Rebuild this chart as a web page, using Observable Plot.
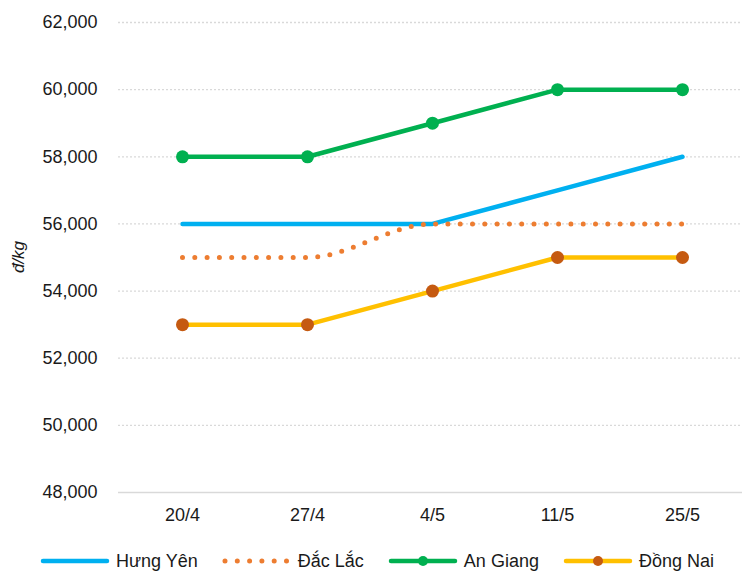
<!DOCTYPE html>
<html>
<head>
<meta charset="utf-8">
<script src="https://cdn.jsdelivr.net/npm/d3@7"></script>
<script src="https://cdn.jsdelivr.net/npm/@observablehq/plot@0.6"></script>
<style>
  html, body { margin: 0; padding: 0; background: #fff; }
  body { width: 742px; height: 571px; overflow: hidden; font-family: "Liberation Sans", Arial, sans-serif; }
  #legend { display: flex; justify-content: center; align-items: center; height: 36px; margin-top: 8px; padding-left: 12px; box-sizing: border-box; font-size: 18px; color: #1a1a1a; }
  .item { display: flex; align-items: center; margin: 0 12px; }
  .item svg { margin-right: 6px; }
</style>
</head>
<body>
<div id="chart"></div>
<div id="legend"></div>
<script>
const dates = ["20/4", "27/4", "4/5", "11/5", "25/5"];
const seriesNames = ["Hưng Yên", "Đắc Lắc", "An Giang", "Đồng Nai"];
const hungYen = [56000, 56000, 56000, 57000, 58000];
const dakLak  = [55000, 55000, 56000, 56000, 56000];
const anGiang = [58000, 58000, 59000, 60000, 60000];
const dongNai = [53000, 53000, 54000, 55000, 55000];
const yTicks = [48000, 50000, 52000, 54000, 56000, 58000, 60000, 62000];
const yLabel = "đ/kg";

const colors = { line1: "#00B0F0", line2: "#ED7D31", line3: "#00B050", line4: "#FFC000", marker4: "#C55A11" };

const rows = (vals, name) => dates.map((d, i) => ({ date: d, value: vals[i], series: name }));
const hy = rows(hungYen, seriesNames[0]);
const dl = rows(dakLak, seriesNames[1]);
const ag = rows(anGiang, seriesNames[2]);
const dn = rows(dongNai, seriesNames[3]);

const W = 742, H = 535, mt = 22, mb = 43, ml = 118;

const chart = Plot.plot({
  width: W,
  height: H,
  marginTop: mt,
  marginBottom: mb,
  marginLeft: ml,
  marginRight: 0,
  style: { fontFamily: "'Liberation Sans', Arial, sans-serif", fontSize: "18px", color: "#1a1a1a", background: "#fff" },
  x: { type: "point", domain: dates, range: [ml, W + 4], padding: 0.5, label: null },
  y: { domain: [yTicks[0], yTicks[yTicks.length - 1]], label: null },
  marks: [
    Plot.gridY(yTicks.slice(1), { stroke: "#D9D9D9", strokeOpacity: 1, strokeWidth: 1.3, strokeDasharray: "2,2" }),
    Plot.ruleY([yTicks[0]], { stroke: "#D9D9D9", strokeWidth: 1.5 }),
    Plot.axisY({ ticks: yTicks, tickFormat: d3.format(","), tickSize: 0, tickPadding: 21, label: null }),
    Plot.axisX({ tickSize: 0, tickPadding: 16, label: null }),
    Plot.line(hy, { x: "date", y: "value", stroke: colors.line1, strokeWidth: 4.5, strokeLinecap: "round", strokeLinejoin: "round" }),
    Plot.line(dl, { x: "date", y: "value", stroke: colors.line2, strokeWidth: 5, strokeLinecap: "round", strokeDasharray: "0,12.3", curve: "monotone-x" }),
    Plot.line(ag, { x: "date", y: "value", stroke: colors.line3, strokeWidth: 4.5, strokeLinecap: "round", strokeLinejoin: "round" }),
    Plot.dot(ag, { x: "date", y: "value", r: 6.5, fill: colors.line3, stroke: "none" }),
    Plot.line(dn, { x: "date", y: "value", stroke: colors.line4, strokeWidth: 4.5, strokeLinecap: "round", strokeLinejoin: "round" }),
    Plot.dot(dn, { x: "date", y: "value", r: 6.5, fill: colors.marker4, stroke: "none" })
  ]
});
document.getElementById("chart").appendChild(chart);

d3.select(chart).append("text")
  .attr("transform", `translate(18,${(mt + H - mb) / 2}) rotate(-90)`)
  .attr("text-anchor", "middle")
  .attr("dy", "0.35em")
  .attr("font-style", "italic")
  .attr("font-size", 17)
  .attr("fill", "#1a1a1a")
  .text(yLabel);

// legend
const legend = d3.select("#legend");
const specs = [
  { name: seriesNames[0], stroke: colors.line1, dash: null, dot: null },
  { name: seriesNames[1], stroke: colors.line2, dash: "0,12.3", dot: null },
  { name: seriesNames[2], stroke: colors.line3, dash: null, dot: colors.line3 },
  { name: seriesNames[3], stroke: colors.line4, dash: null, dot: colors.marker4 }
];
for (const s of specs) {
  const it = legend.append("div").attr("class", "item");
  const sv = it.append("svg").attr("width", 70).attr("height", 16);
  const ln = sv.append("line").attr("x1", 3).attr("x2", 67).attr("y1", 8).attr("y2", 8)
    .attr("stroke", s.stroke).attr("stroke-width", s.dash ? 5 : 4.5).attr("stroke-linecap", "round");
  if (s.dash) ln.attr("stroke-dasharray", s.dash).attr("x2", 70);
  if (s.dot) sv.append("circle").attr("cx", 35).attr("cy", 8).attr("r", 5).attr("fill", s.dot);
  it.append("span").text(s.name);
}
</script>
</body>
</html>
